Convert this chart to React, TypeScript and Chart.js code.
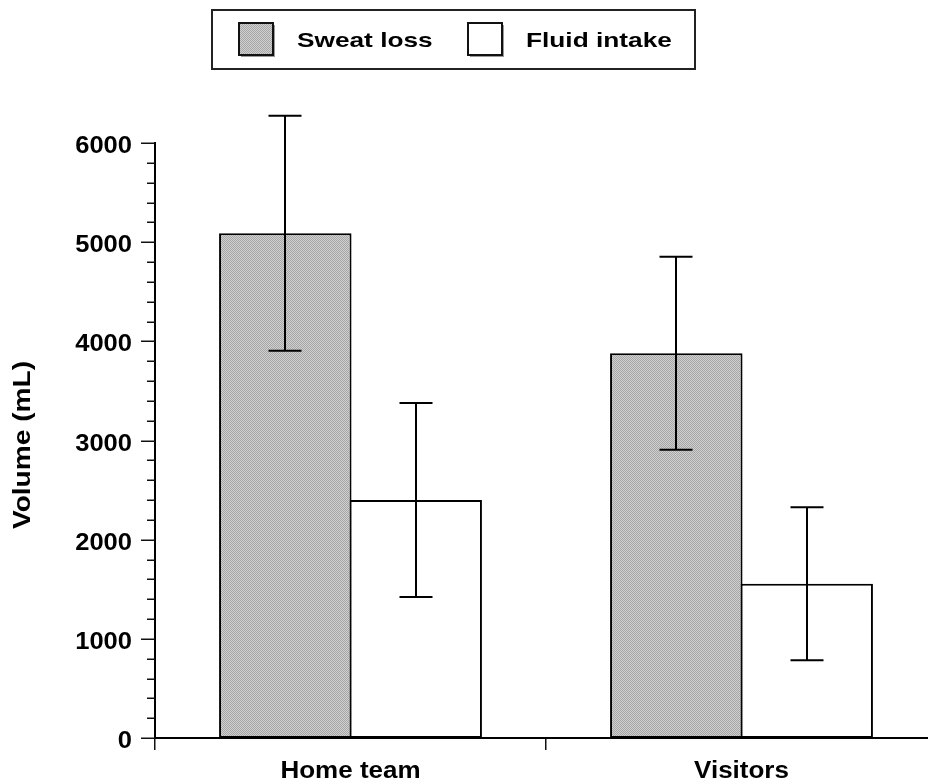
import React, { useEffect, useRef } from "react";
import { Chart, registerables } from "chart.js";

Chart.register(...registerables);

const categories = ["Home team", "Visitors"];
const seriesNames = ["Sweat loss", "Fluid intake"];
const sweatLoss = [5090, 3880];
const sweatErr = [1185, 973];
const fluidIntake = [2400, 1555];
const fluidErr = [978, 772];
const yMajorTicks = [0, 1000, 2000, 3000, 4000, 5000, 6000];
const yMinorStep = 200;
const yTitle = "Volume (mL)";

const FONT = '"Liberation Sans", Arial, Helvetica, sans-serif';

function makePattern(): CanvasPattern | string {
  const c = document.createElement("canvas");
  c.width = 4;
  c.height = 4;
  const g = c.getContext("2d");
  if (!g) return "#bdbdbd";
  g.fillStyle = "#d0d0d0";
  g.fillRect(0, 0, 4, 4);
  g.fillStyle = "#a6a6a6";
  for (let i = 0; i < 4; i++) {
    g.fillRect(i, i, 1, 1);
    g.fillRect(i, (i + 2) % 4, 1, 1);
  }
  const p = g.createPattern(c, "repeat");
  return p || "#bdbdbd";
}

function drawText(
  ctx: CanvasRenderingContext2D,
  text: string,
  x: number,
  y: number,
  size: number,
  sx: number,
  align: CanvasTextAlign,
  rotate = false
) {
  ctx.save();
  ctx.translate(x, y);
  if (rotate) ctx.rotate(-Math.PI / 2);
  ctx.scale(sx, 1);
  ctx.font = `bold ${size}px ${FONT}`;
  ctx.textAlign = align;
  ctx.textBaseline = "alphabetic";
  ctx.fillStyle = "#000";
  ctx.fillText(text, 0, 0);
  ctx.restore();
}

export default function App() {
  const ref = useRef<HTMLCanvasElement | null>(null);

  useEffect(() => {
    const canvas = ref.current;
    if (!canvas) return;
    const pattern = makePattern();
    const errs = [sweatErr, fluidErr];

    const decor = {
      id: "decor",
      afterDatasetsDraw(chart: any) {
        const ctx: CanvasRenderingContext2D = chart.ctx;
        const y = chart.scales.y;
        ctx.save();
        ctx.strokeStyle = "#000";
        ctx.lineWidth = 2;
        chart.data.datasets.forEach((ds: any, di: number) => {
          const meta = chart.getDatasetMeta(di);
          meta.data.forEach((bar: any, i: number) => {
            const v = ds.data[i];
            const e = errs[di][i];
            const x = Math.round(bar.x);
            const yt = y.getPixelForValue(v + e);
            const yb = y.getPixelForValue(v - e);
            const hw = 16.5;
            ctx.beginPath();
            ctx.moveTo(x, yt);
            ctx.lineTo(x, yb);
            ctx.moveTo(x - hw, yt);
            ctx.lineTo(x + hw, yt);
            ctx.moveTo(x - hw, yb);
            ctx.lineTo(x + hw, yb);
            ctx.stroke();
          });
        });
        ctx.restore();
      },
      afterDraw(chart: any) {
        const ctx: CanvasRenderingContext2D = chart.ctx;
        const ys = chart.scales.y;
        const xs = chart.scales.x;
        const left = chart.chartArea.left;
        ctx.save();
        // y ticks
        ctx.strokeStyle = "#111";
        ctx.lineWidth = 1.5;
        const maxV = yMajorTicks[yMajorTicks.length - 1];
        for (let v = 0; v <= maxV; v += yMinorStep) {
          const major = yMajorTicks.includes(v);
          const py = Math.round(ys.getPixelForValue(v)) + 0.25;
          ctx.beginPath();
          ctx.moveTo(left - (major ? 14 : 8), py);
          ctx.lineTo(left, py);
          ctx.stroke();
        }
        yMajorTicks.forEach((v) => {
          const py = ys.getPixelForValue(v);
          drawText(ctx, String(v), 132, py + 10, 23, 1.11, "right");
        });
        // x labels
        categories.forEach((c, i) => {
          const px = xs.getPixelForValue(i);
          drawText(ctx, c, px, 778, 23, 1.13, "center");
        });
        // y title
        drawText(ctx, yTitle, 30, 445, 24, 1.17, "center", true);

        // legend
        ctx.lineWidth = 2;
        ctx.strokeStyle = "#222";
        ctx.strokeRect(212, 10, 483, 59);
        const sw = [
          { x: 239, tx: 297, fill: pattern },
          { x: 468, tx: 526, fill: "#ffffff" },
        ];
        sw.forEach((s, i) => {
          ctx.fillStyle = "#9a9a9a";
          ctx.fillRect(s.x + 2, 25, 34, 32);
          ctx.fillStyle = s.fill as any;
          ctx.fillRect(s.x, 23, 34, 32);
          ctx.lineWidth = 2;
          ctx.strokeStyle = "#111";
          ctx.strokeRect(s.x, 23, 34, 32);
          drawText(ctx, seriesNames[i], s.tx, 47, 21, 1.25, "left");
        });
        ctx.restore();
      },
    };

    const chart = new Chart(canvas, {
      type: "bar",
      data: {
        labels: categories,
        datasets: [
          {
            label: seriesNames[0],
            data: sweatLoss,
            backgroundColor: pattern as any,
            borderColor: "#000",
            borderWidth: 2,
            borderSkipped: false,
            barPercentage: 1.016,
            categoryPercentage: 0.667,
          },
          {
            label: seriesNames[1],
            data: fluidIntake,
            backgroundColor: "#ffffff",
            borderColor: "#000",
            borderWidth: 2,
            borderSkipped: false,
            barPercentage: 1.016,
            categoryPercentage: 0.667,
          },
        ],
      },
      options: {
        responsive: false,
        animation: false,
        devicePixelRatio: 1,
        layout: { padding: { top: 143, left: 0, right: 0, bottom: 0 } },
        plugins: {
          legend: { display: false },
          tooltip: { enabled: false },
          title: { display: false },
        },
        scales: {
          x: {
            type: "category",
            offset: true,
            grid: {
              display: true,
              offset: true,
              drawOnChartArea: false,
              drawTicks: true,
              tickLength: 12,
              color: "#111",
              lineWidth: 1.5,
            },
            border: { display: true, color: "#000", width: 2 },
            ticks: { display: false },
            afterFit: (s: any) => {
              s.height = 44;
            },
          },
          y: {
            min: 0,
            max: 6000,
            grid: { display: false },
            border: { display: true, color: "#000", width: 2 },
            ticks: { display: false, stepSize: 1000 },
            afterFit: (s: any) => {
              s.width = 155;
            },
          },
        },
      },
      plugins: [decor],
    });
    return () => chart.destroy();
  }, []);

  return (
    <div
      style={{
        position: "fixed",
        left: 0,
        top: 0,
        width: 928,
        height: 782,
        overflow: "hidden",
        background: "#fff",
      }}
    >
      <canvas ref={ref} width={937} height={782} style={{ display: "block" }} />
    </div>
  );
}
